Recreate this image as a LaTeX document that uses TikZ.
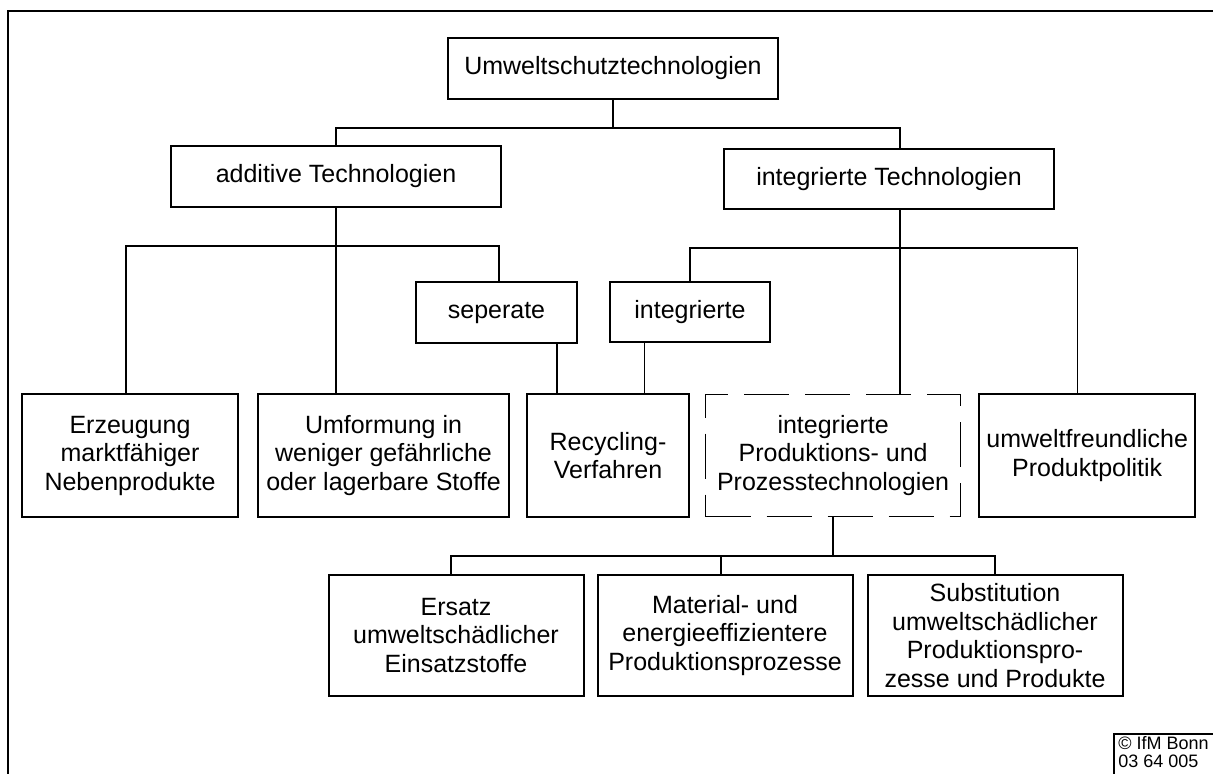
\documentclass[tikz,border=0pt]{standalone}
\usepackage{fontspec}
\setmainfont{Liberation Sans}
\usetikzlibrary{positioning}
\tikzset{
 box/.style
  = {rectangle, draw, line width=1pt, align=center, inner sep=2pt,
     font=\fontsize{12.5}{14.25}\selectfont},
 one/.style
  = {box, text height=9pt, text depth=2.5pt},
 dbox/.style
  = {box, line width=0.6pt, dash pattern=on 22.5pt off 8pt},
 l/.style
  = {draw, line width=0.65pt},
 frame/.style
  = {draw, line width=0.85pt},
}

\begin{document}
\begin{tikzpicture}[x=0.5pt, y=-0.5pt]
\useasboundingbox (0,0) rectangle (1213,774);
\draw [frame] (1213,11) -- (8,11) -- (8,774);

\node (root) [one, minimum width=165pt, minimum height=30.5pt] at (613,68.5) {Umweltschutztechnologien};
\node (add) [one, minimum width=165pt, minimum height=30.5pt] at (336,176.5) {additive Technologien};
\node (intt) [one, minimum width=165pt, minimum height=30pt] at (889,179) {integrierte Technologien};
\node (sep) [one, minimum width=80.5pt, minimum height=30.5pt] at (496.5,312.5) {seperate};
\node (intg) [one, minimum width=80pt, minimum height=30pt, right=15.5pt of sep] {integrierte};
\node (erz) [box, minimum width=108pt, minimum height=61.5pt] at (130,455.5) {Erzeugung\\marktfähiger\\Nebenprodukte};
\node (umf) [box, minimum width=125.5pt, minimum height=61.5pt, right=9pt of erz] {Umformung in\\weniger gefährliche\\oder lagerbare Stoffe};
\node (rec) [box, minimum width=81pt, minimum height=61.5pt, right=8pt of umf] {Recycling-\\Verfahren};
\node (ipp) [dbox, minimum width=127.5pt, minimum height=61pt, right=7.5pt of rec] {integrierte\\Produktions- und\\Prozesstechnologien};
\node (uwf) [box, minimum width=108pt, minimum height=61.5pt, right=8.5pt of ipp] {umweltfreundliche\\Produktpolitik};
\node (ers) [box, minimum width=127.5pt, minimum height=60.5pt] at (456,635.5) {Ersatz\\umweltschädlicher\\Einsatzstoffe};
\node (mat) [box, minimum width=127.5pt, minimum height=60.5pt, right=6pt of ers] {Material- und\\energieeffizientere\\Produktionsprozesse};
\node (sub) [box, minimum width=127.5pt, minimum height=60.5pt, right=6.5pt of mat] {Substitution\\umweltschädlicher\\Produktionspro-\\zesse und Produkte};

% top level
\draw [l] (root.south) -- ++(0,28) coordinate (top);
\path ([xshift=5.5pt]intt.north) coordinate (it);
\draw [l] (add.north) |- (top) -| (it);

% additive branch
\draw [l] (add.south) -- (add.south |- umf.north);
\path (add.south) ++(0,38) coordinate (abus);
\draw [l] ([xshift=-2pt]erz.north) |- (abus) -| ([xshift=1.25pt]sep.north);

% integrated branch
\path ([xshift=5.5pt]intt.south) coordinate (ib);
\path (ib) ++(0,38) coordinate (ibus);
\draw [l] (ib) -- (ib |- ipp.north);
\draw [l] (intg.north) |- (ibus) -| ([xshift=-5pt]uwf.north);

% recycling
\path ([xshift=30.25pt]sep.south) coordinate (sr);
\path ([xshift=-22.75pt]intg.south) coordinate (ir);
\draw [l] (sr) -- (sr |- rec.north);
\draw [l] (ir) -- (ir |- rec.north);

% production technologies
\draw [l] (ipp.south) -- ++(0,39) coordinate (pbus);
\draw [l] ([xshift=-2.5pt]ers.north) |- (pbus) -| (sub.north);
\path ([xshift=-2pt]mat.north) coordinate (mt);
\draw [l] (mt) -- (mt |- pbus);

% source
\node (ifm) [anchor=north west, align=left, inner sep=0pt, font=\fontsize{9}{9}\selectfont] at (1118,736.5) {© IfM Bonn\\03 64 005};
\draw [l] (1213,734) -- (1114,734) -- (1114,774);
\end{tikzpicture}
\end{document}
